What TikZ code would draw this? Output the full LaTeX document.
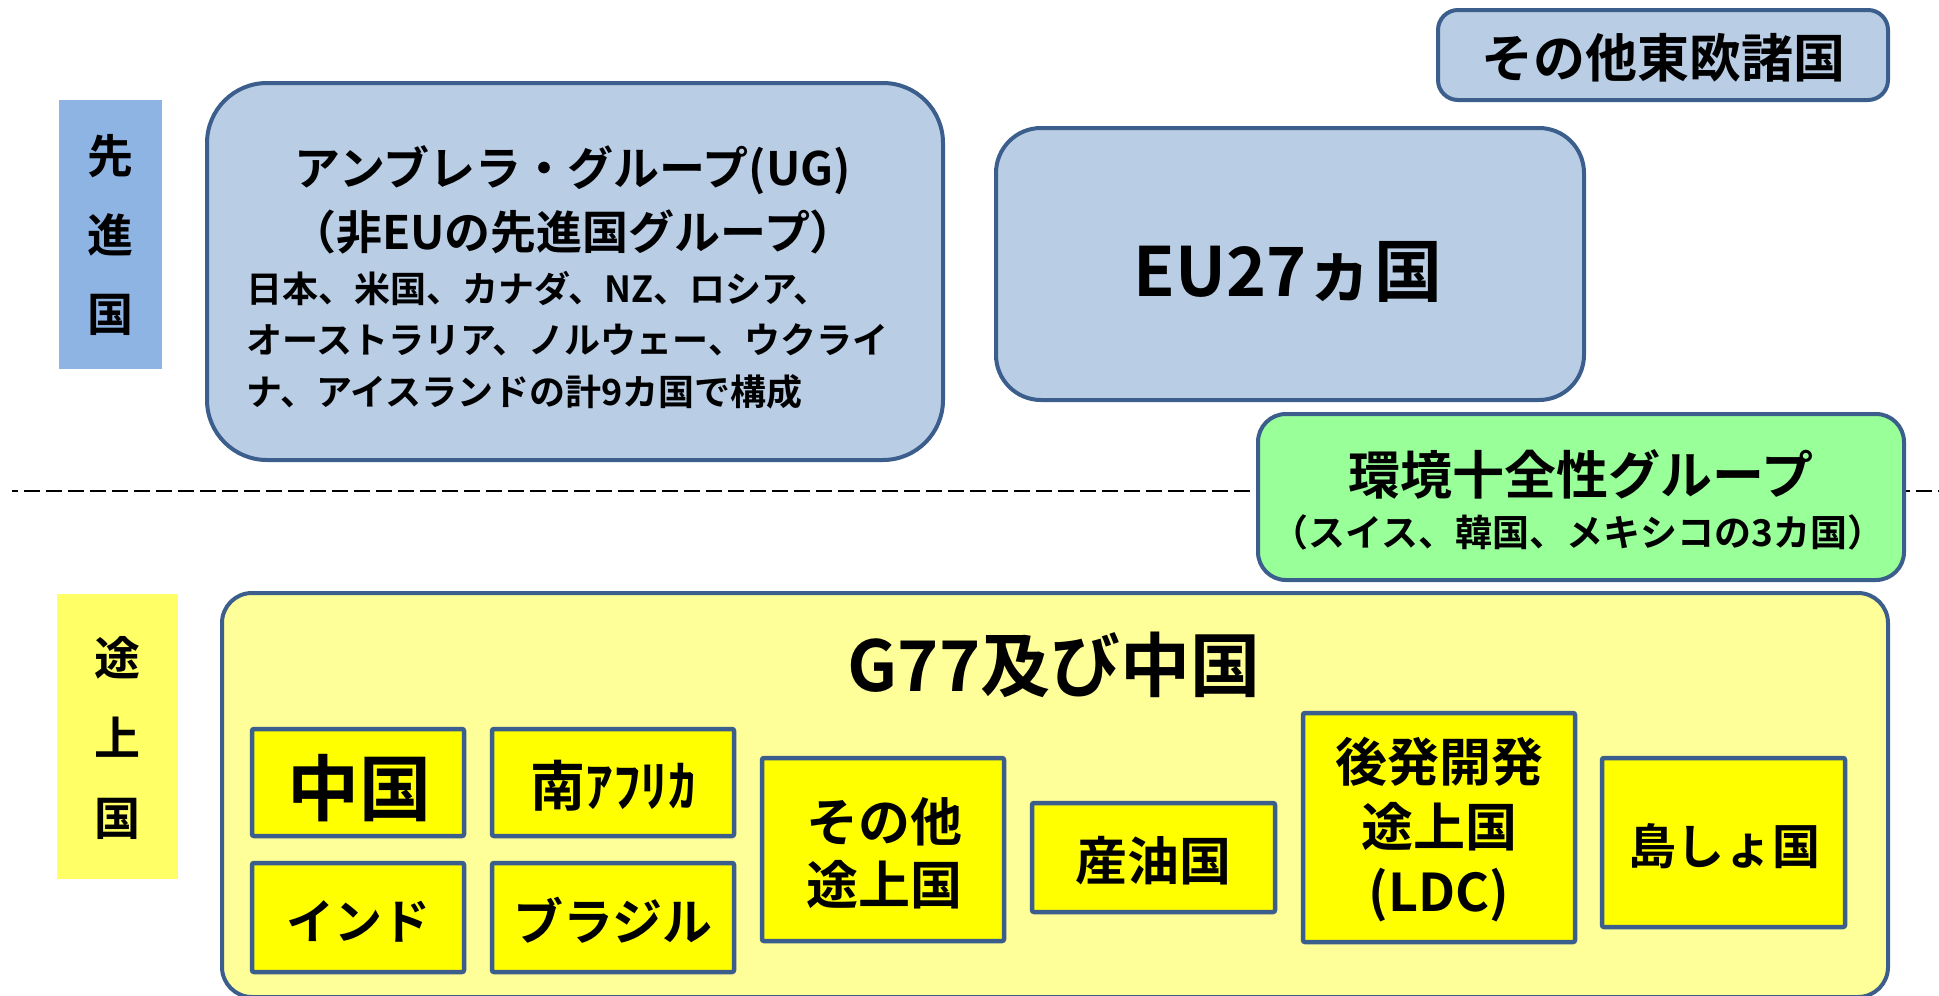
\documentclass[tikz,border=0pt]{standalone}
\usepackage{fontspec}
\setmainfont{Noto Sans CJK JP}[BoldFont={Noto Sans CJK JP Bold}]
\newcommand{\setfs}[2]{\fontsize{#1pt}{#2pt}\selectfont}
\definecolor{labblue}{HTML}{8EB4E3}
\definecolor{boxblue}{HTML}{B9CDE5}
\definecolor{edgeblue}{HTML}{3B5E8C}
\definecolor{boxgreen}{HTML}{99FF99}
\definecolor{labyellow}{HTML}{FFFF66}
\definecolor{boxpale}{HTML}{FFFF99}
\definecolor{boxyellow}{HTML}{FFFF00}
\begin{document}
\begin{tikzpicture}[x=1pt,y=-1pt,
  labelbox/.style={inner sep=0pt, draw=none},
  grpbox/.style={draw=edgeblue, line width=4pt, inner sep=0pt},
  memberbox/.style={draw=edgeblue, line width=4.5pt, fill=boxyellow, inner sep=0pt, rounded corners=2pt},
  txt/.style 2 args={inner sep=0pt, font={\bfseries\setfs{#1}{#2}}, align=center, text=black},
  divider/.style={black, line width=2pt, dash pattern=on 16pt off 6pt, dash phase=10pt}
]
\useasboundingbox (0,0) rectangle (1939,996);
% side labels
\node[labelbox, fill=labblue, minimum width=103, minimum height=269] (advlab) at (110.5,234.5) {};
\node[labelbox, fill=labyellow, minimum width=121, minimum height=285] (devlab) at (117.5,736.5) {};
% developed groups
\node[grpbox, fill=boxblue, rounded corners=60pt, minimum width=736, minimum height=377] (ug) at (575,271.5) {};
\node[grpbox, fill=boxblue, rounded corners=20pt, minimum width=450, minimum height=90] (east) at (1663,55) {};
\node[grpbox, fill=boxblue, rounded corners=45pt, minimum width=588, minimum height=272] (eu) at (1290,264) {};
% divider
\coordinate (dl) at (12,491);
\coordinate (dr) at (1939,491);
\draw[divider] (dl) -- (dr);
\node[grpbox, fill=boxgreen, rounded corners=28pt, minimum width=646, minimum height=166] (eig) at (1581,497) {};
% developing
\node[grpbox, fill=boxpale, rounded corners=30pt, minimum width=1666, minimum height=404] (g77) at (1055,795) {};
\node[memberbox, minimum width=212, minimum height=107] (china) at (358,782.5) {};
\node[memberbox, minimum width=242, minimum height=107] (safr) at (613,782.5) {};
\node[memberbox, minimum width=212, minimum height=109] (india) at (358,917.5) {};
\node[memberbox, minimum width=242, minimum height=109] (brazil) at (613,917.5) {};
\node[memberbox, minimum width=242, minimum height=183] (other) at (883,849.5) {};
\node[memberbox, minimum width=243, minimum height=109] (oil) at (1153.5,857.5) {};
\node[memberbox, minimum width=272, minimum height=229] (ldc) at (1439,827.5) {};
\node[memberbox, minimum width=243, minimum height=169] (island) at (1723.5,842.5) {};
% texts
\node[txt={46}{79}] (advtxt) at (110,235) {先\\進\\国};
\node[txt={46}{80}] (devtxt) at (117,737.5) {途\\上\\国};
\node[txt={46}{64}] (ugtitle) at (573,200) {アンブレラ・グループ(UG)\\（非EUの先進国グループ）};
\node[txt={36}{51.5}, align=left, anchor=west] (ugbody) at (246,340) {日本、米国、カナダ、NZ、ロシア、\\オーストラリア、ノルウェー、ウクライ\\ナ、アイスランドの計9カ国で構成};
\node[txt={52}{60}] (easttxt) at (1663,58) {その他東欧諸国};
\node[txt={68}{80}] (eutxt) at (1288,272) {EU27ヵ国};
\node[txt={52}{60}] (eigtitle) at (1581,474) {環境十全性グループ};
\node[txt={37}{44}] (eigsub) at (1578,532) {（スイス、韓国、メキシコの3カ国）};
\node[txt={70}{80}] (g77txt) at (1054,665) {G77及び中国};
\node[txt={72}{80}] (chinatxt) at (359,788) {中国};
\node[txt={55}{60}] (safrtxt) at (613,786) {南ｱﾌﾘｶ};
\node[txt={48}{60}] (indiatxt) at (358,921) {インド};
\node[txt={50}{60}] (braziltxt) at (613,920) {ブラジル};
\node[txt={52}{63}] (othertxt) at (884,853) {その他\\途上国};
\node[txt={52}{60}] (oiltxt) at (1153,861) {産油国};
\node[txt={52}{65}] (ldctxt) at (1439,830) {後発開発\\途上国\\(LDC)};
\node[txt={48}{60}] (islandtxt) at (1724,846) {島しょ国};
\end{tikzpicture}
\end{document}
